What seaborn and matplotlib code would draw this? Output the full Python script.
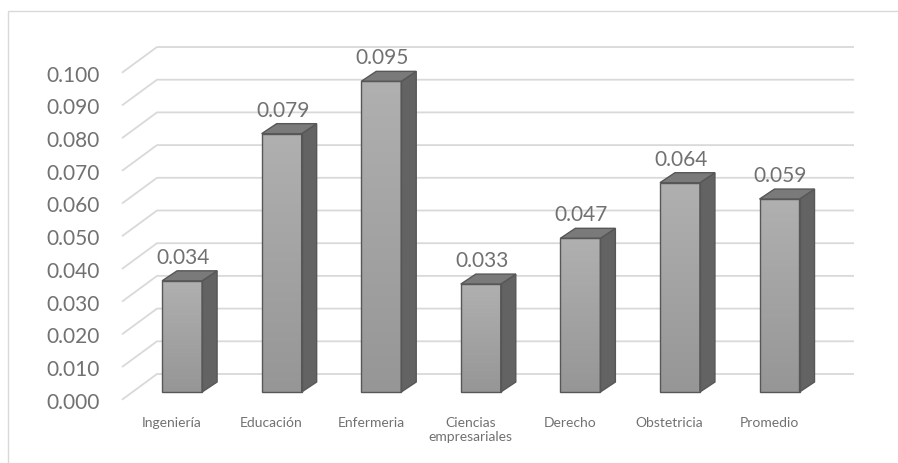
import numpy as np
import pandas as pd
import matplotlib
matplotlib.use("Agg")
import matplotlib.pyplot as plt
import seaborn as sns
from matplotlib.patches import Polygon, Rectangle
from matplotlib.colors import LinearSegmentedColormap

# ---- data -------------------------------------------------------------
categorias = ["Ingeniería", "Educación", "Enfermeria", "Ciencias\nempresariales",
              "Derecho", "Obstetricia", "Promedio"]
valores = [0.034, 0.079, 0.095, 0.033, 0.047, 0.064, 0.059]
marcas_y = [0.000, 0.010, 0.020, 0.030, 0.040, 0.050, 0.060, 0.070, 0.080, 0.090, 0.100]

# ---- figure geometry (pixels) ----------------------------------------
W, H, DPI = 898, 464, 100
X_FRONT_L, X_FRONT_R = 122.0, 819.0      # front plane horizontal extent
Y_ZERO, Y_TOP = 400.7, 73.7              # rows of 0.000 and 0.100 on the front plane
WALL_DX, WALL_DY = 35.0, 25.7            # depth of the floor / back wall
BAR_DX, BAR_DY = 10.3, 7.7               # bars sit a little behind the front plane
DEPTH_DX, DEPTH_DY = 15.0, 10.0          # bar thickness
BAR_W_PX = 40.0

TEXT_GRAY = "#717171"
GRID = "#d9d9d9"

sns.set_theme(style="white")
plt.rcParams["font.family"] = ["Lato", "DejaVu Sans"]

fig = plt.figure(figsize=(W / DPI, H / DPI), dpi=DPI)
fig.patch.set_facecolor("white")
ax = fig.add_axes([X_FRONT_L / W, 1 - Y_ZERO / H,
                   (X_FRONT_R - X_FRONT_L) / W, (Y_ZERO - Y_TOP) / H])

n = len(categorias)
xmin, xmax = -0.5, n - 0.5
ymin, ymax = 0.0, 0.1
cx = (xmax - xmin) / (X_FRONT_R - X_FRONT_L)   # category units per pixel
cy = (ymax - ymin) / (Y_ZERO - Y_TOP)          # value units per pixel

df = pd.DataFrame({"carrera": categorias, "valor": valores})
sns.barplot(data=df, x="carrera", y="valor", order=categorias, ax=ax,
            width=BAR_W_PX * cx, color="#a4a4a4", saturation=1,
            edgecolor="#575757", linewidth=1.0, zorder=4)

# ---- gridlines: floor diagonal + back wall ----------------------------
for v in marcas_y:
    ax.plot([xmin, xmin + WALL_DX * cx, xmax + WALL_DX * cx],
            [v, v + WALL_DY * cy, v + WALL_DY * cy],
            color=GRID, lw=1.3, zorder=1, clip_on=False, solid_capstyle="butt")

# ---- 3D bar faces -----------------------------------------------------
front_cmap = LinearSegmentedColormap.from_list("frente", ["#b0b0b0", "#969696"])
sx, sy = BAR_DX * cx, BAR_DY * cy
dx, dy = DEPTH_DX * cx, DEPTH_DY * cy
for patch, v in zip(list(ax.patches), valores):
    patch.set_x(patch.get_x() + sx)
    patch.set_y(sy)
    patch.set_facecolor("none")
    patch.set_clip_on(False)
    x, w, h = patch.get_x(), patch.get_width(), patch.get_height()
    b = sy
    grad = np.linspace(0, 1, 256).reshape(-1, 1)
    ax.imshow(grad, extent=[x, x + w, b, b + h], origin="upper", cmap=front_cmap,
              aspect="auto", zorder=3, clip_on=False, interpolation="bilinear")
    side = Polygon([(x + w, b), (x + w + dx, b + dy), (x + w + dx, b + h + dy), (x + w, b + h)],
                   closed=True, facecolor="#636363", edgecolor="#575757", lw=1.0,
                   zorder=3.5, clip_on=False)
    top = Polygon([(x, b + h), (x + dx, b + h + dy), (x + w + dx, b + h + dy), (x + w, b + h)],
                  closed=True, facecolor="#7a7a7a", edgecolor="#575757", lw=1.0,
                  zorder=3.5, clip_on=False)
    ax.add_patch(side)
    ax.add_patch(top)
    ax.text(x + w / 2 + 1 * cx, b + h + 18 * cy, f"{v:.3f}", ha="center", va="baseline",
            fontsize=15, color=TEXT_GRAY, zorder=5, clip_on=False)

# ---- axes cosmetics ---------------------------------------------------
ax.set_xlim(xmin, xmax)
ax.set_ylim(ymin, ymax)
ax.set_yticks(marcas_y)
ax.set_yticklabels([f"{t:.3f}" for t in marcas_y], fontsize=15, color=TEXT_GRAY)
ax.set_xticks(range(n))
ax.set_xticklabels(categorias, fontsize=10, color=TEXT_GRAY, linespacing=1.2)
ax.tick_params(axis="y", length=0, pad=16.3)
ax.tick_params(axis="x", length=0, pad=11.8)
ax.set_xlabel("")
ax.set_ylabel("")
for s in ax.spines.values():
    s.set_visible(False)
ax.patch.set_alpha(0)

# chart-area frame
fig.patches.append(Rectangle((7.5 / W, -0.1), 1.0, (H - 11.5) / H + 0.1,
                             transform=fig.transFigure, fill=False,
                             edgecolor=GRID, lw=1.0, zorder=0))

fig.savefig("out.png", dpi=DPI)
